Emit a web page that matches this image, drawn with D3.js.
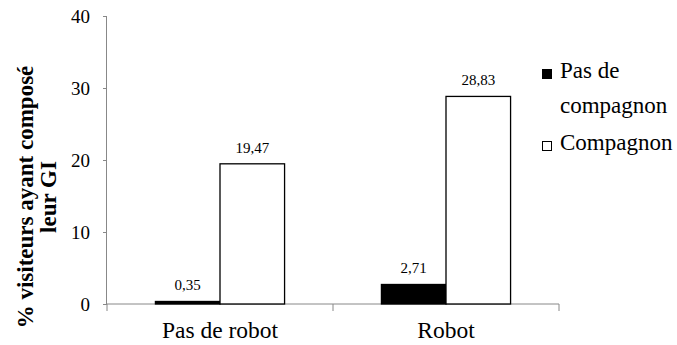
<!DOCTYPE html>
<html>
<head>
<meta charset="utf-8">
<script src="https://cdn.jsdelivr.net/npm/d3@7"></script>
<style>
  html, body { margin: 0; padding: 0; background: #fff; }
  svg { display: block; }
</style>
</head>
<body>
<svg id="chart" width="677" height="345"></svg>
<script>
// Groups on the x axis
const categories = ["Pas de robot", "Robot"];
// Series names (legend)
const seriesNames = ["Pas de compagnon", "Compagnon"];
// Percentages per group, one array per series
const pasDeCompagnon = [0.35, 2.71];
const compagnon = [19.47, 28.83];
// Y axis ticks
const yTicks = [0, 10, 20, 30, 40];

const seriesValues = [pasDeCompagnon, compagnon];
const fills = ["#000000", "#ffffff"];
const serif = "Liberation Serif";

const fr = d3.formatLocale({ decimal: ",", thousands: " ", grouping: [3], currency: ["", " €"] });
const fmt = fr.format(".2f");

const svg = d3.select("#chart");
const axisColor = "#888888";

const y = d3.scaleLinear().domain([0, 40]).range([304, 16]);
const x = d3.scaleBand().domain(categories).range([107, 559]).paddingInner(0).paddingOuter(0);
const xs = d3.scaleBand().domain(seriesNames).range([0, x.bandwidth()]).paddingInner(0).paddingOuter(0.75);

// Y axis
const yAxis = svg.append("g")
  .attr("transform", "translate(107,0)")
  .call(d3.axisLeft(y).tickValues(yTicks).tickSize(4).tickPadding(13).tickFormat(d3.format("d")))
  .attr("font-family", serif).attr("font-size", 19);
yAxis.select(".domain").attr("stroke", axisColor).attr("d", `M-0.5,${y(40)}V${y(0)}`);
yAxis.selectAll(".tick line").attr("stroke", axisColor);
yAxis.selectAll(".tick text").attr("fill", "#000").attr("font-family", serif).attr("font-size", 19);

// X axis baseline with ticks at group boundaries
const xAxisG = svg.append("g").attr("transform", `translate(0,${y(0)})`);
xAxisG.append("line").attr("x1", x.range()[0]).attr("x2", x.range()[1])
  .attr("stroke", axisColor);
const bounds = [x(categories[0]), x(categories[1]), x(categories[1]) + x.bandwidth()];
xAxisG.selectAll("line.tk").data(bounds).join("line").attr("class", "tk")
  .attr("x1", d => d).attr("x2", d => d).attr("y1", 0).attr("y2", 7)
  .attr("stroke", axisColor);
xAxisG.selectAll("text").data(categories).join("text")
  .attr("x", d => x(d) + x.bandwidth() / 2).attr("y", 34)
  .attr("text-anchor", "middle")
  .attr("font-family", serif).attr("font-size", 23.5).text(d => d);

// Bars
const barData = [];
categories.forEach((c, i) => {
  seriesNames.forEach((s, j) => barData.push({ c, s, j, v: seriesValues[j][i] }));
});
svg.append("g").selectAll("rect").data(barData).join("rect")
  .attr("x", d => x(d.c) + xs(d.s))
  .attr("y", d => y(d.v))
  .attr("width", xs.bandwidth())
  .attr("height", d => y(0) - y(d.v))
  .attr("fill", d => fills[d.j])
  .attr("stroke", "#000").attr("stroke-width", 1.3);

// Value labels
svg.append("g").selectAll("text").data(barData).join("text")
  .attr("x", d => x(d.c) + xs(d.s) + xs.bandwidth() / 2)
  .attr("y", d => y(d.v) - 11)
  .attr("text-anchor", "middle")
  .attr("font-family", serif).attr("font-size", 15)
  .text(d => fmt(d.v));

// Y axis title
const title = svg.append("text")
  .attr("transform", "translate(0,197) rotate(-90)")
  .attr("text-anchor", "middle")
  .attr("font-family", serif).attr("font-size", 23).attr("font-weight", "bold");
title.append("tspan").attr("x", 0).attr("y", 33).text("% visiteurs ayant composé");
title.append("tspan").attr("x", 0).attr("y", 56).text("leur GI");

// Legend
const legend = svg.append("g");
const legendItems = [
  { lines: ["Pas de", "compagnon"], fill: fills[0], top: 69 },
  { lines: ["Compagnon"], fill: fills[1], top: 141 }
];
legendItems.forEach(it => {
  legend.append("rect").attr("x", 542.5).attr("y", it.top + 0.5).attr("width", 9).attr("height", 9)
    .attr("fill", it.fill).attr("stroke", "#000").attr("stroke-width", 1);
  const t = legend.append("text").attr("font-family", serif).attr("font-size", 23);
  it.lines.forEach((l, k) => {
    t.append("tspan").attr("x", 560).attr("y", it.top + 9 + k * 35).text(l);
  });
});
</script>
</body>
</html>
